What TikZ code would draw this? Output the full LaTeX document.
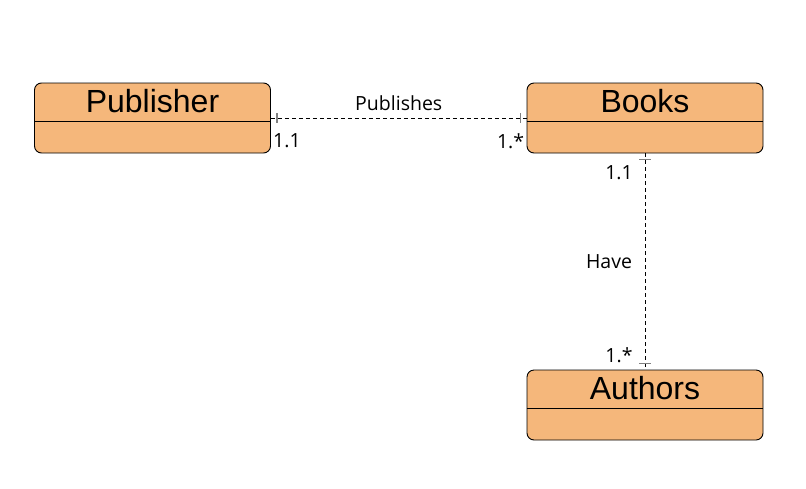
\documentclass[tikz,border=0pt]{standalone}
\usepackage{fontspec}
\setmainfont{Liberation Sans}
\newfontfamily\lblfont{Open Sans}
\usetikzlibrary{calc,positioning}

\definecolor{entfill}{HTML}{F5B77B}
\definecolor{tickgray}{HTML}{808080}

\begin{document}
\begin{tikzpicture}[x=1pt,y=-1pt]
    \tikzstyle{entity} = [draw, fill=entfill, rounded corners=7pt, minimum width=236pt, minimum height=70pt, inner sep=0pt, line width=0.9pt]
    \tikzstyle{etitle} = [font=\fontsize{32}{34}\selectfont, inner sep=0pt]
    \tikzstyle{rel} = [dash pattern=on 4pt off 3pt, line width=0.8pt]
    \tikzstyle{tick} = [tickgray, line width=1.2pt]
    \tikzstyle{lbl} = [font=\lblfont\fontsize{19.5}{21}\selectfont, inner sep=0pt]

    \useasboundingbox (0,0) rectangle (806,488);

    % Entities .........................
    \node[entity] (pub) at (152.5,118) {};
    \node[entity] (books) at (645,118) {};
    \node[entity] (auth) at (645,405) {};

    \draw[line width=0.9pt] ($(pub.west)+(0,3)$) -- ($(pub.east)+(0,3)$);
    \draw[line width=0.9pt] ($(books.west)+(0,3)$) -- ($(books.east)+(0,3)$);
    \draw[line width=0.9pt] ($(auth.west)+(0,3)$) -- ($(auth.east)+(0,3)$);

    \node[etitle] (pubt) at ($(pub.north)+(0,19)$) {Publisher};
    \node[etitle] (bookst) at ($(books.north)+(0,19)$) {Books};
    \node[etitle] (autht) at ($(auth.north)+(0,19)$) {Authors};

    % Relations .........................
    \draw[rel] (pub.east) -- (books.west);
    \draw[rel] (books.south) -- (auth.north);

    \draw[tick] ($(pub.east)+(6,-5)$) -- ++(0,10);
    \draw[tick] ($(books.west)+(-6,-5)$) -- ++(0,10);
    \draw[tick] ($(books.south)+(-6,6)$) -- ++(12,0);
    \draw[tick] ($(auth.north)+(-6,-6)$) -- ++(12,0);

    \node[lbl] (pubs) at ($(pub.east)!0.5!(books.west)+(0,-15)$) {Publishes};
    \node[lbl] (c1) at ($(pub.east)+(16,23)$) {1.1};
    \node[lbl] (c2) at ($(books.west)+(-16,23)$) {1.*};
    \node[lbl] (have) at (609,262) {Have};
    \node[lbl] (c3) at ($(books.south)+(-26,19)$) {1.1};
    \node[lbl] (c4) at ($(auth.north)+(-26,-14)$) {1.*};

\end{tikzpicture}
\end{document}
